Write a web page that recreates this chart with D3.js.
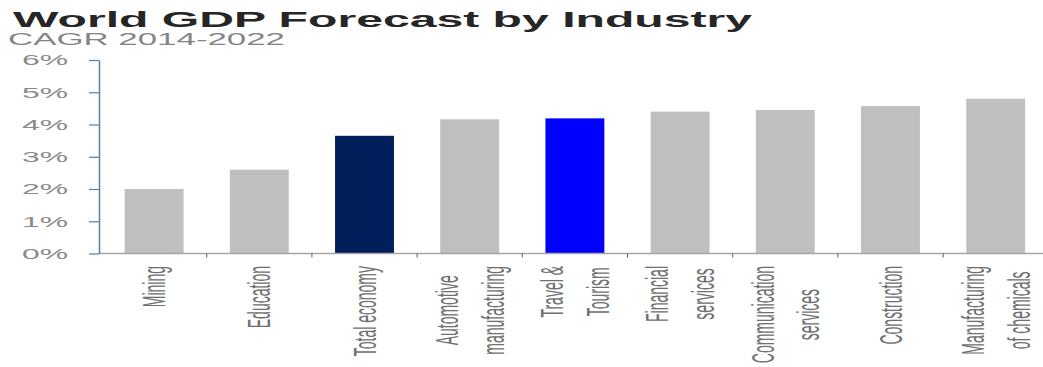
<!DOCTYPE html>
<html>
<head>
<meta charset="utf-8">
<script src="https://cdn.jsdelivr.net/npm/d3@7"></script>
<style>
  html, body { margin: 0; padding: 0; background: #fff; }
  svg { display: block; font-family: "Liberation Sans", Arial, sans-serif; }
</style>
</head>
<body>
<svg id="chart" width="1043" height="367"></svg>
<script>
// Industries (line breaks mark wrapped labels) and their 2014-2022 CAGR, in %
const categories = [
  "Mining",
  "Education",
  "Total economy",
  "Automotive\nmanufacturing",
  "Travel &\nTourism",
  "Financial\nservices",
  "Communication\nservices",
  "Construction",
  "Manufacturing\nof chemicals"
];
const cagr = [2.0, 2.6, 3.65, 4.16, 4.19, 4.4, 4.45, 4.57, 4.8];
const yTicks = [0, 1, 2, 3, 4, 5, 6];
const titleText = "World GDP Forecast by Industry";
const subtitleText = "CAGR 2014-2022";

// Bars picked out from the grey ones
const highlight = new Map([
  ["Total economy", "#001f5b"],
  ["Travel &\nTourism", "#0000ff"]
]);
const barGrey = "#bfbfbf";

// Text in this chart is drawn wide; horizontal stretch factor
const stretch = 2.28;

const svg = d3.select("#chart");
const W = 1043;

const data = categories.map((c, i) => ({ cat: c, value: cagr[i] }));

const x = d3.scaleBand()
  .domain(categories)
  .range([101.5, 1048.3])
  .paddingInner(0.44)
  .paddingOuter(0.22);

const y = d3.scaleLinear()
  .domain([0, 6])
  .range([253.5, 60]);

const axisX = 99;

// Title and subtitle
svg.append("text")
  .attr("x", 13).attr("y", 27)
  .attr("font-size", 22).attr("font-weight", "bold")
  .attr("fill", "#262626")
  .attr("textLength", 739).attr("lengthAdjust", "spacingAndGlyphs")
  .text(titleText);

svg.append("text")
  .attr("x", 8).attr("y", 45)
  .attr("font-size", 16)
  .attr("fill", "#858585")
  .attr("textLength", 277).attr("lengthAdjust", "spacingAndGlyphs")
  .text(subtitleText);

// Bars
svg.append("g").selectAll("rect")
  .data(data)
  .join("rect")
  .attr("x", d => x(d.cat))
  .attr("width", x.bandwidth())
  .attr("y", d => y(d.value))
  .attr("height", d => y(0) - y(d.value))
  .attr("fill", d => highlight.get(d.cat) || barGrey);

// Category axis: baseline plus ticks between the categories
const xAxis = svg.append("g");
xAxis.append("line")
  .attr("x1", axisX).attr("x2", W)
  .attr("y1", y(0)).attr("y2", y(0))
  .attr("stroke", "#a6a6a6").attr("stroke-width", 1.5);

const boundaries = categories.slice(1).map(c => x(c) + x.bandwidth() / 2 - x.step() / 2);
xAxis.selectAll("line.tick")
  .data(boundaries)
  .join("line")
  .attr("class", "tick")
  .attr("x1", d => d).attr("x2", d => d)
  .attr("y1", y(0)).attr("y2", y(0) + 4)
  .attr("stroke", "#595959").attr("stroke-width", 1);

// Rotated category labels, read bottom to top, hanging from the axis
const labelTop = 266;
const lineStep = 20;
const labels = svg.append("g")
  .attr("font-size", 14)
  .attr("fill", "#707070");

data.forEach(d => {
  const lines = d.cat.split("\n");
  const cx = x(d.cat) + x.bandwidth() / 2;
  const g = labels.append("g")
    .attr("transform", `translate(${cx},${labelTop}) scale(${stretch},1) rotate(-90)`);
  const texts = lines.map((ln, i) =>
    g.append("text")
      .attr("y", (i - (lines.length - 1) / 2) * lineStep)
      .attr("dy", "0.35em")
      .text(ln)
  );
  if (lines.length === 1) {
    texts[0].attr("x", 0).attr("text-anchor", "end");
  } else {
    const maxLen = d3.max(texts, t => t.node().getComputedTextLength());
    texts.forEach(t => t.attr("x", -maxLen / 2).attr("text-anchor", "middle"));
  }
});

// Value axis
const yAxis = svg.append("g")
  .attr("transform", `translate(${axisX},0)`)
  .call(d3.axisLeft(y).tickValues(yTicks).tickSize(10).tickSizeOuter(0).tickFormat(d => d + "%"));

yAxis.select(".domain").attr("stroke", "#5b7fa1").attr("stroke-width", 1.5);
yAxis.selectAll(".tick line").attr("stroke", "#5b7fa1").attr("stroke-width", 1.2);
yAxis.selectAll(".tick text")
  .attr("x", 0)
  .attr("dy", "0.35em")
  .attr("text-anchor", "end")
  .attr("transform", `translate(-31,0) scale(${stretch},1)`)
  .attr("font-size", 14)
  .attr("font-family", "'Liberation Sans', Arial, sans-serif")
  .attr("fill", "#8a8a8a");
</script>
</body>
</html>
